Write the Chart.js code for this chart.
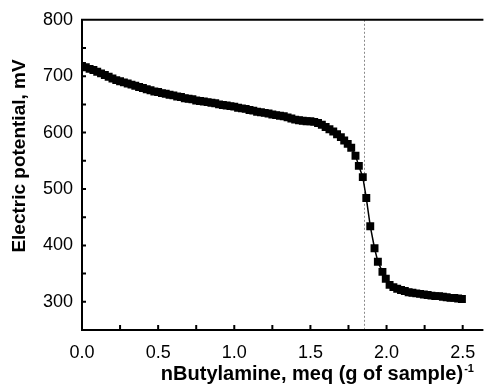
<!DOCTYPE html>
<html>
<head>
<meta charset="utf-8">
<script src="https://cdn.jsdelivr.net/npm/chart.js@4"></script>
<style>
    body { margin: 0; background: #fff; }
</style>
</head>
<body>
<canvas id="myChart" width="489" height="390"></canvas>
<script>
// nButylamine added, meq (g of sample)^-1
var wAmine = [
    0.000, 0.025, 0.050, 0.075, 0.100, 0.125, 0.150, 0.175, 0.200, 0.225,
    0.250, 0.275, 0.300, 0.325, 0.350, 0.375, 0.400, 0.425, 0.450, 0.475,
    0.500, 0.525, 0.550, 0.575, 0.600, 0.625, 0.650, 0.675, 0.700, 0.725,
    0.750, 0.775, 0.800, 0.825, 0.850, 0.875, 0.900, 0.925, 0.950, 0.975,
    1.000, 1.025, 1.050, 1.075, 1.100, 1.125, 1.150, 1.175, 1.200, 1.225,
    1.250, 1.275, 1.300, 1.325, 1.350, 1.375, 1.400, 1.425, 1.450, 1.475,
    1.500, 1.525, 1.550, 1.575, 1.600, 1.625, 1.650, 1.675, 1.700, 1.722,
    1.745, 1.768, 1.796, 1.818, 1.844, 1.867, 1.893, 1.921, 1.943, 1.973,
    1.995, 2.020, 2.045, 2.070, 2.095, 2.120, 2.145, 2.170, 2.195, 2.220,
    2.245, 2.270, 2.295, 2.320, 2.345, 2.370, 2.395, 2.420, 2.445, 2.470,
    2.495
]
// electric potential, mV
var wPotential = [
    718, 716, 713, 711, 708, 705, 702, 699, 696, 693,
    691, 689, 687, 685, 683, 681, 679, 677, 675, 673,
    672, 670, 669, 667, 666, 664, 663, 661, 660, 659,
    657, 656, 655, 654, 653, 652, 650, 649, 648, 647,
    646, 644, 643, 642, 640, 639, 637, 636, 635, 634,
    632, 631, 630, 629, 627, 625, 623, 622, 621, 620,
    620, 619, 617, 614, 610, 606, 602, 597, 592, 586,
    580, 573, 559, 541, 521, 484, 434, 395, 371, 353,
    341, 330, 326, 323, 321, 319, 317, 316, 315, 314,
    313, 312, 311, 310, 310, 309, 308, 307, 307, 306,
    305
]
var wXTicks = [0, 0.25, 0.5, 0.75, 1.0, 1.25, 1.5, 1.75, 2.0, 2.25, 2.5]
var wYTicks = [250, 300, 350, 400, 450, 500, 550, 600, 650, 700, 750, 800]
var wEndPoint = 1.855

var wFont = '"Liberation Sans", Arial, Helvetica, sans-serif'

var wFrame = {
    id: 'wFrame',
    beforeDatasetsDraw: function (chart) {
        var ctx = chart.ctx
        var a = chart.chartArea
        var px = chart.scales.x.getPixelForValue(wEndPoint)
        ctx.save()
        ctx.strokeStyle = '#8a8a8a'
        ctx.lineWidth = 1
        ctx.setLineDash([2, 2])
        ctx.beginPath()
        ctx.moveTo(Math.round(px) + 0.5, a.top)
        ctx.lineTo(Math.round(px) + 0.5, a.bottom)
        ctx.stroke()
        ctx.restore()
    },
    afterDraw: function (chart) {
        var ctx = chart.ctx
        var a = chart.chartArea
        var sx = chart.scales.x
        var sy = chart.scales.y
        ctx.save()
        ctx.strokeStyle = '#000'
        ctx.lineWidth = 2
        ctx.beginPath()
        ctx.moveTo(a.left, a.top)
        ctx.lineTo(a.right, a.top)
        ctx.moveTo(a.left, a.top - 1)
        ctx.lineTo(a.left, a.bottom + 1)
        ctx.moveTo(a.left, a.bottom)
        ctx.lineTo(a.right, a.bottom)
        sx.ticks.forEach(function (t) {
            var p = sx.getPixelForValue(t.value)
            ctx.moveTo(p, a.bottom)
            ctx.lineTo(p, a.bottom - 5)
        })
        sy.ticks.forEach(function (t) {
            var p = sy.getPixelForValue(t.value)
            ctx.moveTo(a.left, p)
            ctx.lineTo(a.left + 4, p)
        })
        ctx.stroke()

        // axis titles
        ctx.fillStyle = '#000'
        ctx.font = 'bold 19px ' + wFont
        ctx.textAlign = 'center'
        ctx.textBaseline = 'middle'
        ctx.save()
        ctx.translate(20, 156)
        ctx.rotate(-Math.PI / 2)
        ctx.fillText('Electric potential, mV', 0, 0)
        ctx.restore()

        var wMain = 'nButylamine, meq (g of sample)'
        ctx.font = 'bold 20px ' + wFont
        ctx.textAlign = 'left'
        ctx.textBaseline = 'alphabetic'
        var w = ctx.measureText(wMain).width
        var x0 = 312 - w / 2
        ctx.fillText(wMain, x0, 380)
        ctx.font = 'bold 11px ' + wFont
        ctx.fillText('-1', x0 + w + 1, 372)
        ctx.restore()
    }
}

var ctx = document.getElementById('myChart').getContext('2d')
var myChart = new Chart(ctx, {
    type: 'line',
    data: {
        datasets: [{
            label: 'Potentiometric titration',
            data: wAmine.map(function (v, i) { return { x: v, y: wPotential[i] } }),
            borderColor: '#000',
            borderWidth: 1.5,
            backgroundColor: '#000',
            pointStyle: 'rect',
            pointRadius: 5.6,
            pointBorderWidth: 0,
            pointBackgroundColor: '#000',
            tension: 0
        }]
    },
    options: {
        responsive: false,
        animation: false,
        layout: { padding: { top: 18, right: 0, left: 0, bottom: 0 } },
        plugins: {
            legend: { display: false },
            tooltip: { enabled: false }
        },
        scales: {
            x: {
                type: 'linear',
                min: 0,
                max: 2.636,
                afterBuildTicks: function (scale) {
                    scale.ticks = wXTicks.map(function (v) { return { value: v } })
                },
                afterFit: function (scale) { scale.height = 60 },
                grid: { display: false, drawTicks: false },
                border: { display: false },
                ticks: {
                    autoSkip: false,
                    maxRotation: 0,
                    padding: 12,
                    color: '#000',
                    font: { family: wFont, size: 18 },
                    callback: function (v) {
                        return Math.abs(v * 2 - Math.round(v * 2)) < 1e-6 ? v.toFixed(1) : ''
                    }
                }
            },
            y: {
                min: 250,
                max: 800,
                afterBuildTicks: function (scale) {
                    scale.ticks = wYTicks.map(function (v) { return { value: v } })
                },
                afterFit: function (scale) { scale.width = 82 },
                grid: { display: false, drawTicks: false },
                border: { display: false },
                ticks: {
                    autoSkip: false,
                    padding: 9,
                    color: '#000',
                    font: { family: wFont, size: 18 },
                    callback: function (v) {
                        return v % 100 === 0 ? String(v) : ''
                    }
                }
            }
        }
    },
    plugins: [wFrame]
})
</script>
</body>
</html>
